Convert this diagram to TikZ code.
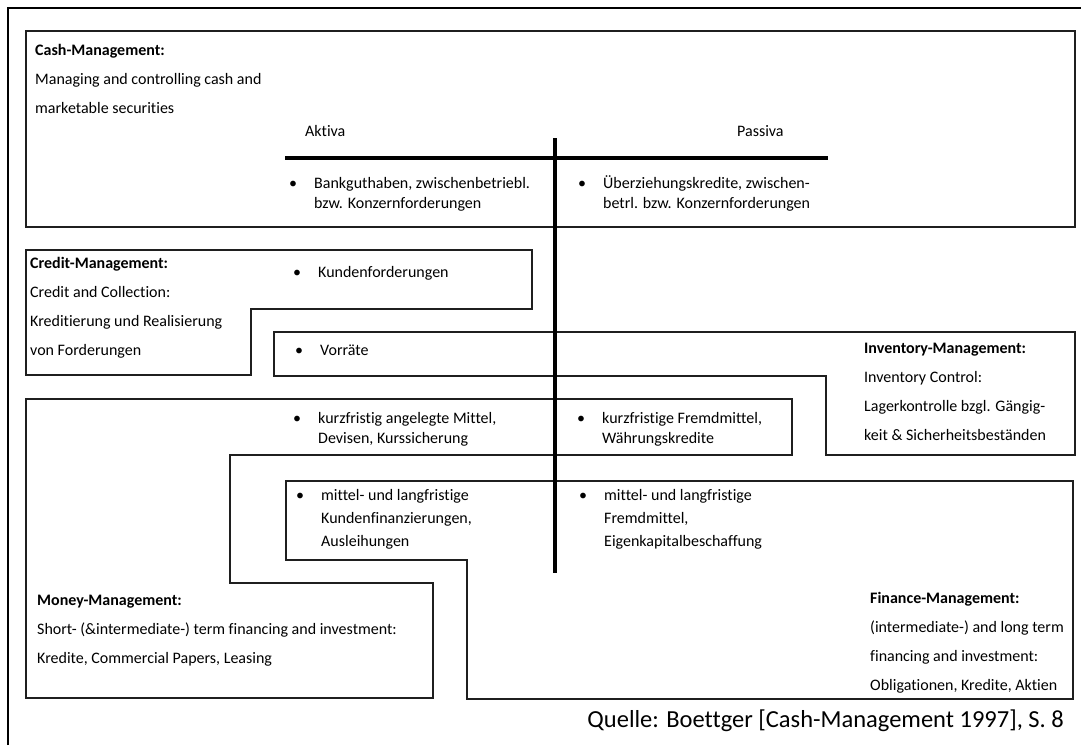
\documentclass[tikz,border=0pt]{standalone}
\usepackage{fontspec}
\setmainfont{Carlito}[Ligatures=NoCommon]
\newcommand{\itm}[1]{\makebox[10pt]{\textbullet}\hspace{16pt}\begin{tabular}[t]{@{}l@{}}#1\end{tabular}}
\tikzset{
  box/.style={draw=black!88, line width=2.6pt, line join=miter},
  bal/.style={draw=black, line width=3.4pt},
  frame/.style={draw=black, line width=1.6pt},
  lbl/.style={anchor=north west, inner sep=0pt, align=left, font=\fontsize{16}{29}\selectfont},
  head/.style={anchor=west, inner sep=0pt, font=\fontsize{16}{19}\selectfont},
  itemA/.style={anchor=north west, inner sep=0pt, font=\fontsize{16}{20}\selectfont},
  itemB/.style={anchor=north west, inner sep=0pt, font=\fontsize{16}{23}\selectfont},
  src/.style={anchor=east, inner sep=0pt, font=\fontsize{24.5}{28}\selectfont}
}
\begin{document}
\begin{tikzpicture}[x=1pt,y=-1pt]
\useasboundingbox[fill=white] (0,0) rectangle (1081,745);
% outer frame
\draw[frame] (8,745) -- (8,8) -- (1081,8);
% boxes
\draw[box] (26,31) rectangle (1075,227);
\draw[box] (26,250) -- (532,250) -- (532,309) -- (251,309) -- (251,375) -- (26,375) -- cycle;
\draw[box] (274,332) -- (1075,332) -- (1075,455) -- (826,455) -- (826,376) -- (274,376) -- cycle;
\draw[box] (26,399) -- (792,399) -- (792,455) -- (230,455) -- (230,583) -- (433,583) -- (433,698) -- (26,698) -- cycle;
\draw[box] (286,481) -- (1073,481) -- (1073,699) -- (467,699) -- (467,560) -- (286,560) -- cycle;
% balance sheet T
\coordinate (hl) at (285,158);
\coordinate (hr) at (828,158);
\coordinate (vt) at (555,138);
\coordinate (vb) at (555,573);
\draw[bal] (hl) -- (hr);
\draw[bal] (vt) -- (vb);
% headings
\node[head] (akt) at (305,131) {Aktiva};
\node[head] (pas) at (737,131) {Passiva};
% box labels
\node[lbl] (cash) at (35,44.5) {\textbf{Cash-Management:}\\Managing and controlling cash and\\marketable securities};
\node[lbl] (credit) at (30,257.5) {\textbf{Credit-Management:}\\Credit and Collection:\\Kreditierung und Realisierung\\von Forderungen};
\node[lbl] (inv) at (864,342.5) {\textbf{Inventory-Management:}\\Inventory Control:\\Lagerkontrolle bzgl. G\"angig-\\keit \& Sicherheitsbest\"anden};
\node[lbl] (money) at (37,594.5) {\textbf{Money-Management:}\\Short- (\&intermediate-) term financing and investment:\\Kredite, Commercial Papers, Leasing};
\node[lbl] (fin) at (870,592.5) {\textbf{Finance-Management:}\\(intermediate-) and long term\\financing and investment:\\Obligationen, Kredite, Aktien};
% items
\node[itemA] (i1) at (288,174) {\itm{Bankguthaben, zwischenbetriebl.\\bzw. Konzernforderungen}};
\node[itemA] (i2) at (577,174) {\itm{\"Uberziehungskredite, zwischen-\\betrl. bzw. Konzernforderungen}};
\node[itemA] (i3) at (292,263) {\itm{Kundenforderungen}};
\node[itemA] (i4) at (294,341) {\itm{Vorr\"ate}};
\node[itemA] (i5) at (292,409) {\itm{kurzfristig angelegte Mittel,\\Devisen, Kurssicherung}};
\node[itemA] (i6) at (576,409) {\itm{kurzfristige Fremdmittel,\\W\"ahrungskredite}};
\node[itemB] (i7) at (295,484) {\itm{mittel- und langfristige\\Kundenfinanzierungen,\\Ausleihungen}};
\node[itemB] (i8) at (578,484) {\itm{mittel- und langfristige\\Fremdmittel,\\Eigenkapitalbeschaffung}};
% source
\node[src] (quelle) at (1064,721) {Quelle: Boettger [Cash-Management 1997], S. 8};
\end{tikzpicture}
\end{document}
